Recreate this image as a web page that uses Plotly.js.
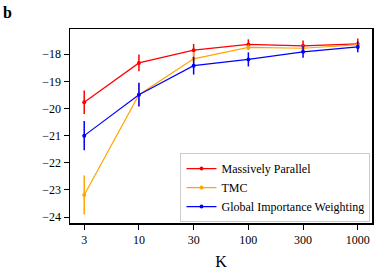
<!DOCTYPE html>
<html><head><meta charset="utf-8">
<script src="https://cdn.plot.ly/plotly-3.0.1.min.js"></script>
<style>html,body{margin:0;padding:0;background:#fff}</style>
</head><body><div id="c" style="width:374px;height:270px"></div>
<script>
const K = ["3","10","30","100","300","1000"];
const mpY = [-19.77,-18.32,-17.85,-17.64,-17.69,-17.62];
const mpE = [0.43,0.31,0.23,0.19,0.2,0.2];
const tmcY = [-23.19,-19.49,-18.17,-17.75,-17.78,-17.65];
const tmcE = [0.72,0.43,0.25,0.1,0.1,0.1];
const giwY = [-21.0,-19.49,-18.42,-18.19,-17.91,-17.73];
const giwE = [0.54,0.44,0.33,0.26,0.22,0.2];
const names = ["Massively Parallel","TMC","Global Importance Weighting"];
const colors = ["#ff0000","#ffa500","#0000ff"];
const ys=[mpY,tmcY,giwY], es=[mpE,tmcE,giwE];
const FAM = "Liberation Serif";
const font = {family:FAM, size:12, color:"#000"};
const traces = ys.map((y,i)=>({
  x:K, y:y, type:"scatter", mode:"lines+markers", name:names[i],
  line:{color:colors[i], width:1.2}, marker:{color:colors[i], size:4},
  error_y:{type:"data", array:es[i], visible:true, color:colors[i], thickness:1.5, width:0}
}));
const layout = {
  width:374, height:270, margin:{l:70,r:2,t:29,b:47},
  paper_bgcolor:"#fff", plot_bgcolor:"#fff", font:font, showlegend:true,
  xaxis:{type:"category", range:[-0.26,5.26], showgrid:false, zeroline:false,
    showline:true, linecolor:"#000", linewidth:1.5, mirror:true,
    ticks:"outside", ticklen:5, tickwidth:1, tickcolor:"#000",
    tickfont:{family:FAM,size:12,color:"#000"},
    title:{text:"K", font:{family:FAM,size:16}, standoff:10}},
  yaxis:{range:[-24.22,-17.07], showgrid:false, zeroline:false,
    showline:true, linecolor:"#000", linewidth:1.5, mirror:true,
    ticks:"outside", ticklen:5, tickwidth:1, tickcolor:"#000",
    tickfont:{family:FAM,size:12,color:"#000"},
    tickvals:[-24,-23,-22,-21,-20,-19,-18]},
  legend:{x:0.995, y:0.005, xanchor:"right", yanchor:"bottom",
    bgcolor:"rgba(255,255,255,0.8)", bordercolor:"#cccccc", borderwidth:1,
    font:{family:FAM,size:12,color:"#000"}, tracegroupgap:0, itemwidth:30},
  annotations:[{text:"<b>b</b>", xref:"paper", yref:"paper", x:0, y:1,
    xanchor:"left", yanchor:"top", showarrow:false, xshift:-69, yshift:27,
    font:{family:FAM,size:16}}]
};
Plotly.newPlot("c", traces, layout, {displayModeBar:false, staticPlot:true});
</script></body></html>
